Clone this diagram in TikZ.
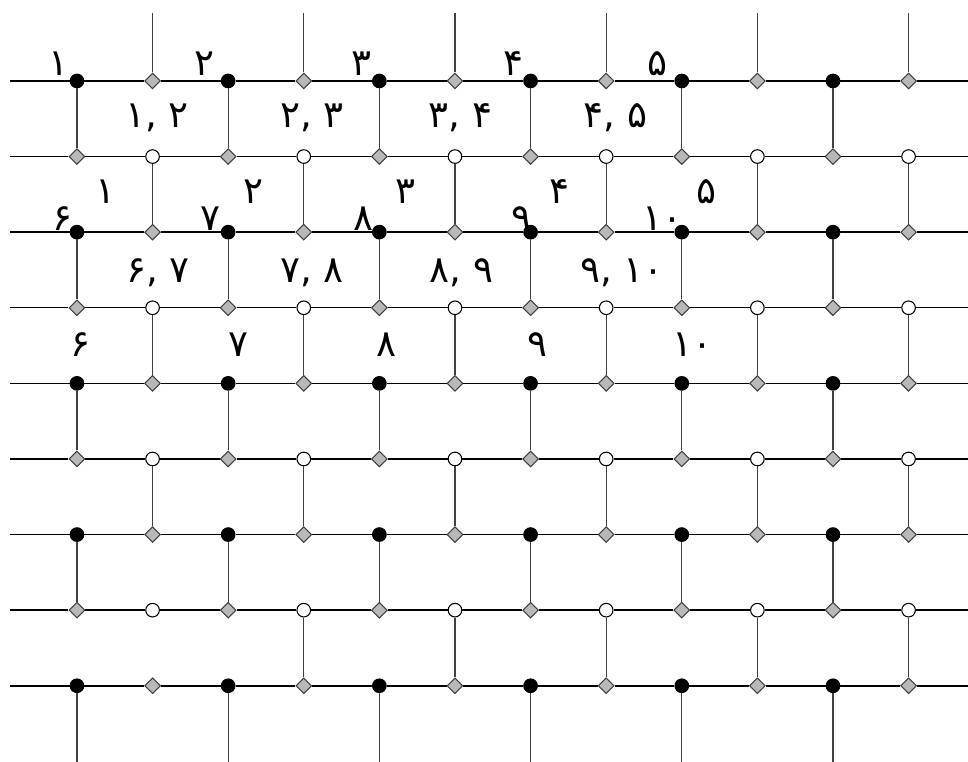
\documentclass[tikz,border=0pt]{standalone}
\usepackage{fontspec}
\newfontfamily\persianfont[Script=Arabic]{DejaVu Sans}
\TeXXeTstate=1
\usetikzlibrary{shapes.geometric}
\newcommand{\numpair}[2]{\beginL\mbox{#1}\mbox{,}\ \mbox{#2}\endL}

\begin{document}
\begin{tikzpicture}[
    x=1cm, y=-1cm,
    blackdot/.style={circle, draw=black, fill=black, minimum size=0.18cm, inner sep=0pt},
    whitedot/.style={circle, draw=black, fill=white, minimum size=0.18cm, inner sep=0pt, line width=0.4pt},
    graydiam/.style={diamond, draw=black!75, fill=black!28, minimum size=0.21cm, inner sep=0pt, line width=0.4pt},
    hline/.style={draw=black, line width=0.55pt},
    vline/.style={draw=black!75, line width=0.45pt},
    num/.style={font=\persianfont\fontsize{14}{16}\selectfont, inner sep=0pt, anchor=base}
]
    \useasboundingbox (-1.018,-1.071) rectangle (11.786,9.008);

    % Grid nodes
    \foreach \r in {0,...,8} {
        \foreach \c in {0,...,11} {
            \pgfmathtruncatemacro\s{mod(\r+\c,2)}
            \pgfmathtruncatemacro\e{mod(\r,2)}
            \ifnum\s=1
                \node (n-\r-\c) [graydiam] at (\c,\r) {};
            \else\ifnum\e=0
                \node (n-\r-\c) [blackdot] at (\c,\r) {};
            \else
                \node (n-\r-\c) [whitedot] at (\c,\r) {};
            \fi\fi
        }
    }

    % Horizontal lines
    \foreach \r in {0,...,8} {
        \coordinate (w-\r) at (-0.886,\r);
        \coordinate (e-\r) at (11.786,\r);
        \path [hline] (w-\r) -- (n-\r-0);
        \foreach \c [evaluate=\c as \d using int(\c+1)] in {0,...,10}
            \path [hline] (n-\r-\c) -- (n-\r-\d);
        \path [hline] (n-\r-11) -- (e-\r);
    }

    % Vertical lines
    \foreach \r [evaluate=\r as \q using int(\r+1)] in {0,2,4,6}
        \foreach \c in {0,2,...,10}
            \path [vline] (n-\r-\c) -- (n-\q-\c);
    \foreach \r [evaluate=\r as \q using int(\r+1)] in {1,3,5}
        \foreach \c in {1,3,...,11}
            \path [vline] (n-\r-\c) -- (n-\q-\c);
    \foreach \c in {3,5,...,11}
        \path [vline] (n-7-\c) -- (n-8-\c);

    % Stubs
    \foreach \c in {1,3,...,11} {
        \coordinate (t-\c) at (\c,-0.9);
        \path [vline] (t-\c) -- (n-0-\c);
    }
    \foreach \c in {0,2,...,10} {
        \coordinate (b-\c) at (\c,9.008);
        \path [vline] (n-8-\c) -- (b-\c);
    }

    % Labels
    \node (la1) [num] at (-0.25,-0.073) {۱};
    \node (la2) [num] at (1.69,-0.073) {۲};
    \node (la3) [num] at (3.77,-0.073) {۳};
    \node (la4) [num] at (5.78,-0.073) {۴};
    \node (la5) [num] at (7.68,-0.073) {۵};

    \node (lb12) [num] at (1.06,0.62) {\numpair{۱}{۲}};
    \node (lb23) [num] at (3.11,0.62) {\numpair{۲}{۳}};
    \node (lb34) [num] at (5.07,0.62) {\numpair{۳}{۴}};
    \node (lb45) [num] at (7.12,0.62) {\numpair{۴}{۵}};

    \node (lc1) [num] at (0.38,1.627) {۱};
    \node (lc2) [num] at (2.34,1.627) {۲};
    \node (lc3) [num] at (4.35,1.627) {۳};
    \node (lc4) [num] at (6.38,1.627) {۴};
    \node (lc5) [num] at (8.33,1.627) {۵};

    \node (ld6) [num] at (-0.19,1.98) {۶};
    \node (ld7) [num] at (1.76,1.98) {۷};
    \node (ld8) [num] at (3.79,1.98) {۸};
    \node (ld9) [num] at (5.88,1.98) {۹};
    \node (ld10) [num] at (7.74,1.98) {۱۰};

    \node (le67) [num] at (1.07,2.66) {\numpair{۶}{۷}};
    \node (le78) [num] at (3.11,2.66) {\numpair{۷}{۸}};
    \node (le89) [num] at (5.09,2.66) {\numpair{۸}{۹}};
    \node (le910) [num] at (7.21,2.66) {\numpair{۹}{۱۰}};

    \node (lf6) [num] at (0.05,3.65) {۶};
    \node (lf7) [num] at (2.13,3.65) {۷};
    \node (lf8) [num] at (4.10,3.65) {۸};
    \node (lf9) [num] at (6.09,3.65) {۹};
    \node (lf10) [num] at (8.14,3.65) {۱۰};
\end{tikzpicture}
\end{document}
